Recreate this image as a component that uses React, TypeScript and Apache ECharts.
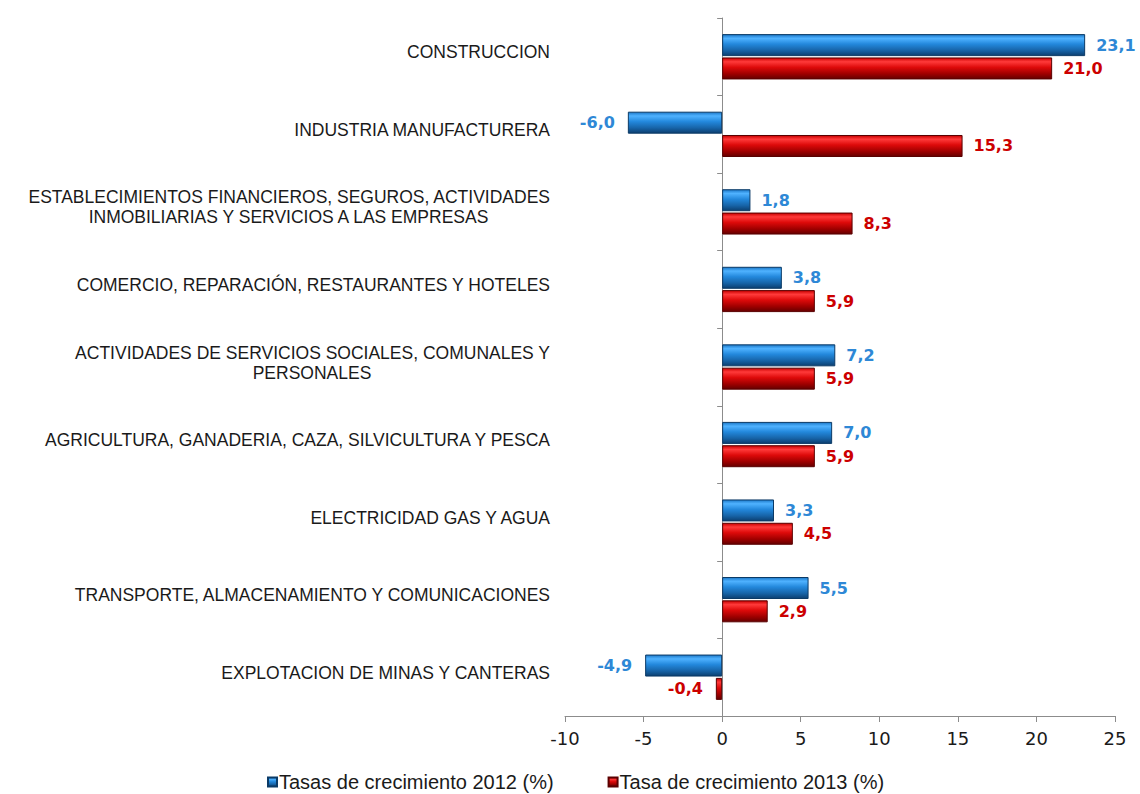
import React, { useEffect, useRef } from "react";
import * as echarts from "echarts";

const categories = [
  "CONSTRUCCION",
  "INDUSTRIA MANUFACTURERA",
  "ESTABLECIMIENTOS FINANCIEROS, SEGUROS, ACTIVIDADES\nINMOBILIARIAS Y SERVICIOS A LAS EMPRESAS",
  "COMERCIO, REPARACIÓN, RESTAURANTES Y HOTELES",
  "ACTIVIDADES DE SERVICIOS SOCIALES, COMUNALES Y\nPERSONALES",
  "AGRICULTURA, GANADERIA, CAZA, SILVICULTURA Y PESCA",
  "ELECTRICIDAD GAS Y AGUA",
  "TRANSPORTE, ALMACENAMIENTO Y COMUNICACIONES",
  "EXPLOTACION DE MINAS Y CANTERAS",
];
const values2012 = [23.1, -6.0, 1.8, 3.8, 7.2, 7.0, 3.3, 5.5, -4.9];
const values2013 = [21.0, 15.3, 8.3, 5.9, 5.9, 5.9, 4.5, 2.9, -0.4];
const seriesNames = ["Tasas de crecimiento 2012 (%)", "Tasa de crecimiento 2013 (%)"];
const xTicks = { min: -10, max: 25, interval: 5 };

const CAT_SIZE = 17.5;
const CAT_FONT = CAT_SIZE + 'px "Liberation Sans"';

export default function App() {
  const ref = useRef<HTMLDivElement>(null);
  useEffect(() => {
    if (!ref.current) return;
    const chart = echarts.init(ref.current, null, { renderer: "svg" });
    const canvas = document.createElement("canvas");
    const ctx = canvas.getContext("2d")!;
    ctx.font = CAT_FONT;
    const rich: any = {};
    categories.forEach((c, i) => {
      const lines = c.split("\n");
      if (lines.length > 1) {
        rich["c" + i] = {
          width: Math.ceil(ctx.measureText(lines[0]).width),
          align: "center",
          fontSize: CAT_SIZE,
          fontFamily: "Liberation Sans",
          color: "#1a1a1a",
          lineHeight: 20,
        };
      }
    });
    const catFormatter = (v: string) => {
      const i = categories.indexOf(v);
      const lines = v.split("\n");
      if (lines.length === 1) return v;
      return lines[0] + "\n{c" + i + "|" + lines[1] + "}";
    };
    const fmt = (n: number) => n.toFixed(1).replace(".", ",");
    const blueGrad = new echarts.graphic.LinearGradient(0, 0, 0, 1, [
      { offset: 0, color: "#1c78c8" },
      { offset: 0.18, color: "#4fb2ff" },
      { offset: 0.45, color: "#2388dc" },
      { offset: 0.75, color: "#1764a8" },
      { offset: 1, color: "#0c3f70" },
    ]);
    const redGrad = new echarts.graphic.LinearGradient(0, 0, 0, 1, [
      { offset: 0, color: "#c80000" },
      { offset: 0.18, color: "#ff3a3a" },
      { offset: 0.45, color: "#dd0a0a" },
      { offset: 0.75, color: "#a00000" },
      { offset: 1, color: "#650000" },
    ]);
    const mkData = (arr: number[]) =>
      arr.map((v) => ({
        value: v,
        label: v < 0 ? { position: "left", distance: 13 } : { position: "right", distance: 11 },
      }));
    const labelBase = {
      show: true,
      fontFamily: "DejaVu Sans",
      fontWeight: "bold",
      fontSize: 16,
      formatter: (p: any) => fmt(p.value),
    };
    chart.setOption({
      animation: false,
      backgroundColor: "#ffffff",
      grid: { left: 565, right: 25, top: 18, bottom: 78, containLabel: false },
      legend: {
        top: 767,
        left: 262,
        itemWidth: 9,
        itemHeight: 9,
        itemGap: 54,
        icon: "rect",
        textStyle: { fontFamily: "Liberation Sans", fontSize: 20, color: "#1a1a1a", padding: [0, 0, 0, -3] },
        data: seriesNames,
      },
      xAxis: {
        type: "value",
        min: xTicks.min,
        max: xTicks.max,
        interval: xTicks.interval,
        splitLine: { show: false },
        axisLine: { show: true, lineStyle: { color: "#8c8c8c", width: 1 } },
        axisTick: { show: true, length: 6, lineStyle: { color: "#8c8c8c" } },
        axisLabel: { fontFamily: "DejaVu Sans", fontSize: 18, color: "#1a1a1a", margin: 13 },
      },
      yAxis: [
        {
          type: "category",
          inverse: true,
          position: "left",
          data: categories,
          axisLine: { show: false, onZero: false },
          axisTick: { show: false },
          axisLabel: {
            fontFamily: "Liberation Sans",
            fontSize: CAT_SIZE,
            color: "#1a1a1a",
            margin: 15,
            lineHeight: 20,
            padding: [0, 0, 9, 0],
            formatter: catFormatter,
            rich,
          },
        },
        {
          type: "category",
          inverse: true,
          position: "left",
          data: categories,
          axisLine: { show: true, onZero: true, lineStyle: { color: "#8c8c8c", width: 1 } },
          axisTick: { show: true, length: 5, lineStyle: { color: "#8c8c8c" } },
          axisLabel: { show: false },
        },
      ],
      series: [
        {
          name: seriesNames[0],
          type: "bar",
          yAxisIndex: 0,
          data: mkData(values2012),
          barWidth: 22,
          barGap: "6%",
          itemStyle: { color: blueGrad, borderColor: "#0b3a66", borderWidth: 1 },
          label: { ...labelBase, color: "#2e88d6" },
        },
        {
          name: seriesNames[1],
          type: "bar",
          yAxisIndex: 0,
          data: mkData(values2013),
          barWidth: 22,
          barGap: "6%",
          itemStyle: { color: redGrad, borderColor: "#5a0000", borderWidth: 1 },
          label: { ...labelBase, color: "#cc0000" },
        },
      ],
    });
    return () => chart.dispose();
  }, []);
  return (
    <div
      ref={ref}
      style={{ position: "absolute", left: 0, top: 0, width: 1140, height: 794 }}
    />
  );
}
